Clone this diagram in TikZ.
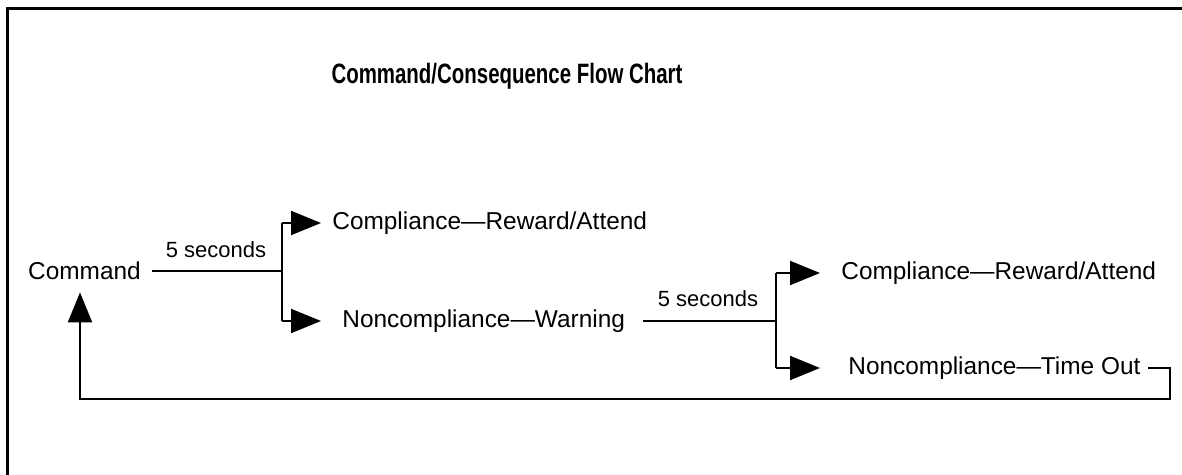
\documentclass[tikz,border=0pt]{standalone}
\usepackage{fontspec}
\setmainfont{Liberation Sans}
\usetikzlibrary{arrows.meta}

\begin{document}
\begin{tikzpicture}[x=0.5pt, y=-0.5pt,
  txt/.style={inner sep=0pt, font=\fontsize{12.2}{14}\selectfont},
  lbl/.style={inner sep=0pt, font=\fontsize{11}{13}\selectfont},
  wire/.style={line width=1pt},
  arr/.style={wire, -{Triangle[length=15pt,width=12pt]}}]

\useasboundingbox (0,0) rectangle (1182,475);
\fill[white] (0,0) rectangle (1182,475);
\draw[line width=1.5pt] (1182,9) -- (7,9) -- (7,475);

\node (title) at (507, 76) [inner sep=0pt]
{\scalebox{0.73}[1]{\fontsize{14}{17}\selectfont\bfseries Command/Consequence Flow Chart}};

\node (cmd) at (84.5, 271) [txt] {Command};
\node (c1) at (332, 223) [txt, anchor=west] {Compliance—Reward/Attend};
\node (n1) at (342, 321) [txt, anchor=west] {Noncompliance—Warning};
\node (c2) at (841, 273) [txt, anchor=west] {Compliance—Reward/Attend};
\node (n2) at (848, 368) [txt, anchor=west] {Noncompliance—Time Out};
\node (t1) at (216, 250) [lbl] {5 seconds};
\node (t2) at (708, 299) [lbl] {5 seconds};

\coordinate (j1) at (282, 271);
\coordinate (j2) at (776, 321);
\coordinate (back) at (1170, 399);

% first wait
\draw[wire, shorten <=5.5pt] (cmd.east) -- (j1);
\draw[wire] (j1 |- c1) -- (j1 |- n1);
\draw[arr, shorten >=5.5pt] (j1 |- c1) -- (c1.west);
\draw[arr, shorten >=10.5pt] (j1 |- n1) -- (n1.west);

% second wait
\draw[wire, shorten <=9pt] (n1.east) -- (j2);
\draw[wire] (j2 |- c2) -- (j2 |- n2);
\draw[arr, shorten >=10.5pt] (j2 |- c2) -- (c2.west);
\draw[arr, shorten >=14pt] (j2 |- n2) -- (n2.west);

% back to command
\draw[arr, shorten >=6pt] ([xshift=3.5pt]n2.east) -| (back) -| ([xshift=-2.25pt]cmd.south);

\end{tikzpicture}
\end{document}
